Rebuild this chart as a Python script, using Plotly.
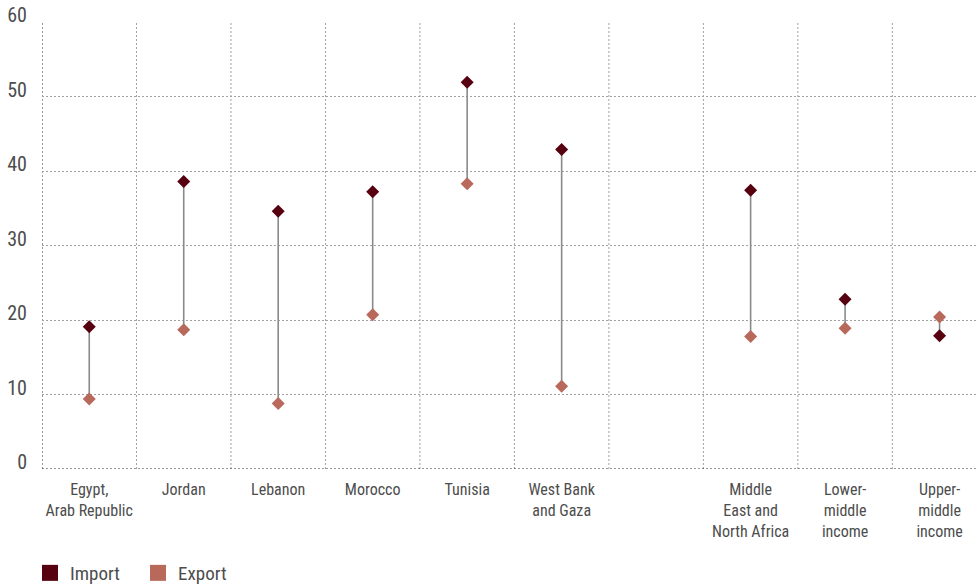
import plotly.graph_objects as go

categories = ["Egypt,<br>Arab Republic", "Jordan", "Lebanon", "Morocco", "Tunisia",
              "West Bank<br>and Gaza", "", "Middle<br>East and<br>North Africa",
              "Lower-<br>middle<br>income", "Upper-<br>middle<br>income"]
import_vals = [19.1, 38.6, 34.6, 37.2, 51.9, 42.9, None, 37.4, 22.8, 17.9]
export_vals = [9.4, 18.7, 8.8, 20.7, 38.3, 11.1, None, 17.8, 18.9, 20.4]
y_ticks = [0, 10, 20, 30, 40, 50, 60]

IMPORT_C = "#560010"
EXPORT_C = "#b8695c"
TEXT_C = "#4d4d4d"
FONT = "Roboto Condensed, DejaVu Sans Condensed, Liberation Sans Narrow, sans-serif"

xs = list(range(len(categories)))

# connector lines
lx, ly = [], []
for x, a, b in zip(xs, import_vals, export_vals):
    if a is None or b is None:
        continue
    lx += [x, x, None]
    ly += [a, b, None]

fig = go.Figure()
fig.add_trace(go.Scatter(x=lx, y=ly, mode="lines", line=dict(color="#8a8a8a", width=1.6),
                         showlegend=False, hoverinfo="skip"))
fig.add_trace(go.Scatter(x=xs, y=import_vals, mode="markers", name="Import",
                         marker=dict(symbol="diamond", size=10, color=IMPORT_C), showlegend=False))
fig.add_trace(go.Scatter(x=xs, y=export_vals, mode="markers", name="Export",
                         marker=dict(symbol="diamond", size=10, color=EXPORT_C), showlegend=False))
# legend entries
fig.add_trace(go.Scatter(x=[None], y=[None], mode="markers", name="Import",
                         marker=dict(symbol="square", size=16, color=IMPORT_C)))
fig.add_trace(go.Scatter(x=[None], y=[None], mode="markers", name="Export",
                         marker=dict(symbol="square", size=16, color=EXPORT_C)))

n = len(categories)
x_max = -0.5 + (977 - 42.8) / 94.4

GRID_DASH = "2px,2px"
shapes = []
# vertical gridlines at category boundaries
for i in range(n):
    b = i + 0.5
    if b < x_max:
        shapes.append(dict(type="line", xref="x", yref="paper", x0=b, x1=b, y0=0, y1=1,
                           line=dict(color="#a0a0a0", width=1, dash=GRID_DASH), layer="below"))
# left and bottom borders
shapes.append(dict(type="line", xref="x", yref="paper", x0=-0.5, x1=-0.5, y0=0, y1=1,
                   line=dict(color="#333333", width=1, dash=GRID_DASH), layer="below"))
shapes.append(dict(type="line", xref="paper", yref="y", x0=0, x1=1, y0=0, y1=0,
                   line=dict(color="#333333", width=1, dash=GRID_DASH), layer="below"))

fig.update_layout(
    width=977, height=588,
    margin=dict(l=42, r=0, t=22, b=119),
    paper_bgcolor="white", plot_bgcolor="white",
    font=dict(family=FONT, color=TEXT_C),
    shapes=shapes,
    showlegend=True,
    legend=dict(orientation="h", xref="container", yref="container",
                x=30 / 977, xanchor="left", y=(588 - 573) / 588, yanchor="middle",
                font=dict(size=19, color=TEXT_C, family=FONT),
                entrywidth=63, entrywidthmode="pixels", itemclick=False),
    xaxis=dict(range=[-0.5, x_max], tickvals=xs, ticktext=categories, showgrid=False,
               zeroline=False, showline=False, ticks="", ticklabelstandoff=9,
               automargin=False,
               tickfont=dict(size=16, color=TEXT_C, family=FONT)),
    yaxis=dict(range=[0, 60], tickvals=y_ticks, showgrid=True, gridcolor="#a0a0a0",
               griddash=GRID_DASH, gridwidth=1, zeroline=False, showline=False,
               ticklabelshift=-7, ticklabelstandoff=14, automargin=False,
               tickfont=dict(size=20, color=TEXT_C, family=FONT)),
)

fig.write_html("out.html", config={"displayModeBar": False},
               post_script="document.body.style.margin='0';")
